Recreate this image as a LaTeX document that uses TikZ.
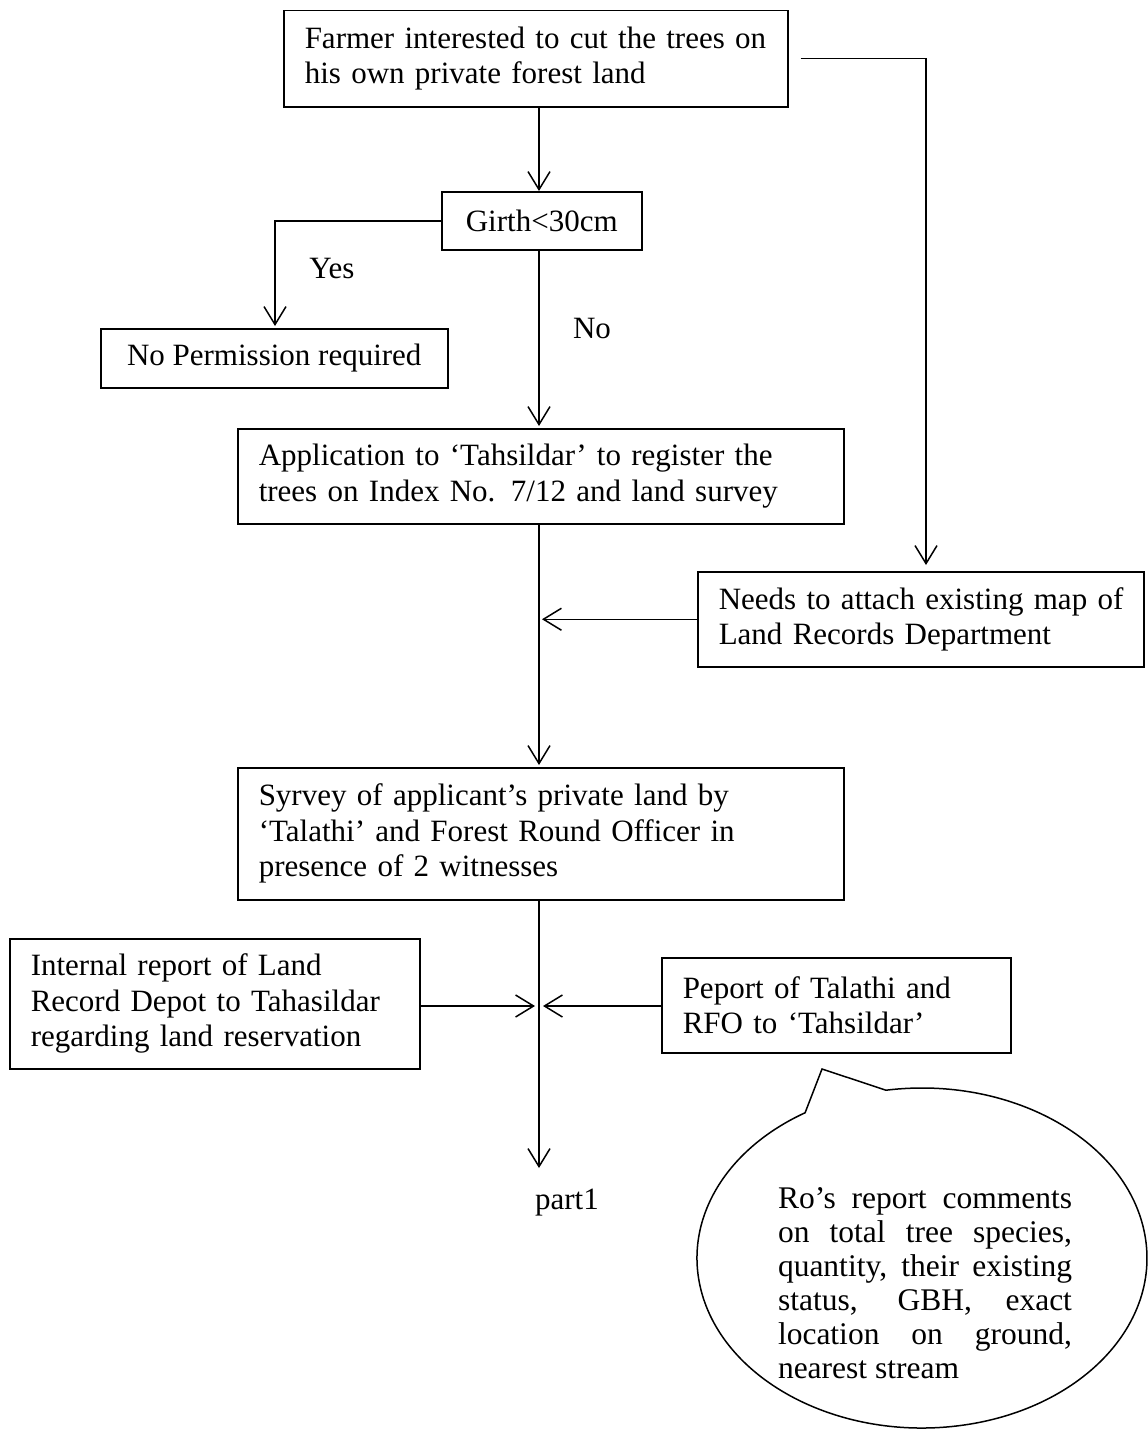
\documentclass[tikz,border=0pt]{standalone}
\usepackage{fontspec}
\usetikzlibrary{arrows.meta,shapes.geometric}
\newfontfamily\tnr{Liberation Serif}
\newcommand\boxfont{\tnr\fontsize{31}{35.5}\selectfont}
\newcommand\bubblefont{\tnr\fontsize{31.5}{34}\selectfont}
\tikzset{
  box/.style={draw, line width=1.5pt, anchor=north west, inner xsep=21pt,
    inner ysep=0pt, align=left, font=\boxfont},
  link/.style={line width=1.5pt},
  arr/.style={link, -{Straight Barb[length=18pt, width=22pt, line width=1.5pt]}},
  lbl/.style={font=\boxfont, inner sep=0pt},
}
\begin{document}
\begin{tikzpicture}[x=1pt, y=-1pt]
\useasboundingbox (0,0) rectangle (1148,1429);

% process boxes
\node[box, minimum width=501pt, minimum height=96pt, text width=462pt] (farmer) at (283,10)
  {\mbox{Farmer interested to cut the trees on}\\his own private forest land};
\node[box, align=center, minimum width=200pt, minimum height=58pt] (girth) at (441,191)
  {Girth<30cm};
\node[box, align=center, minimum width=347pt, minimum height=59pt] (noperm) at (100,328)
  {No Permission required};
\node[box, minimum width=606pt, minimum height=95pt, text width=564pt] (app) at (237,428)
  {Application to ‘Tahsildar’ to register the\\trees on Index No. 7/12 and land survey};
\node[box, minimum width=446pt, minimum height=95pt, text width=404pt] (needs) at (697,571)
  {\mbox{Needs to attach existing map of}\\Land Records Department};
\node[box, minimum width=606pt, minimum height=132pt, text width=564pt] (survey) at (237,767)
  {Syrvey of applicant’s private land by\\‘Talathi’ and Forest Round Officer in\\presence of 2 witnesses};
\node[box, minimum width=410pt, minimum height=130pt, text width=368pt] (internal) at (9,938)
  {Internal report of Land\\\mbox{Record Depot to Tahasildar}\\regarding land reservation};
\node[box, minimum width=349pt, minimum height=95pt, text width=307pt] (peport) at (661,957)
  {Peport of Talathi and\\RFO to ‘Tahsildar’};

% points on the main vertical line
\coordinate (spine) at (539,0);
\coordinate (jneeds) at (542,0);
\coordinate (jleft) at (535,1006);
\coordinate (jright) at (543,1006);
\coordinate (partend) at (539,1168);
\node[lbl] (part1) at (567,1203) {part1};

% connectors
\draw[arr] (farmer.south -| spine) -- (girth.north -| spine);
\coordinate (rstart) at ([xshift=12pt]farmer.east);
\coordinate (rturn) at (926,0);
\draw[arr] (rstart) -- (rstart -| rturn) -- ([yshift=6pt]needs.north -| rturn);
\coordinate (yturn) at (275,0);
\draw[arr] (girth.west) -- (girth.west -| yturn) -- ([yshift=2pt]noperm.north -| yturn);
\node[lbl] (yes) at (332,268) {Yes};
\draw[arr] (girth.south -| spine) -- ([yshift=2pt]app.north -| spine);
\node[lbl] (no) at (592,328) {No};
\draw[arr] (app.south -| spine) -- ([yshift=2pt]survey.north -| spine);
\draw[arr] (needs.west) -- (needs.west -| jneeds);
\draw[arr] (survey.south -| spine) -- (partend);
\draw[arr] (internal.east |- jleft) -- (jleft);
\draw[arr] (peport.west |- jright) -- (jright);

% speech bubble with its pointer
\coordinate (bc) at (922,1258);
\draw[link, fill=white] (886,1090.2)
  arc[start angle=99.2, end angle=-238.7, x radius=225pt, y radius=170pt]
  -- (822,1069) -- cycle;
\node[inner sep=0pt, align=left, font=\bubblefont] (bubble) at (925,1283)
  {\makebox[294pt][s]{Ro’s report comments}\\
   \makebox[294pt][s]{on total tree species,}\\
   \makebox[294pt][s]{quantity, their existing}\\
   \makebox[294pt][s]{status, GBH, exact}\\
   \makebox[294pt][s]{location on ground,}\\
   \makebox[294pt][l]{nearest stream}};
\end{tikzpicture}
\end{document}
